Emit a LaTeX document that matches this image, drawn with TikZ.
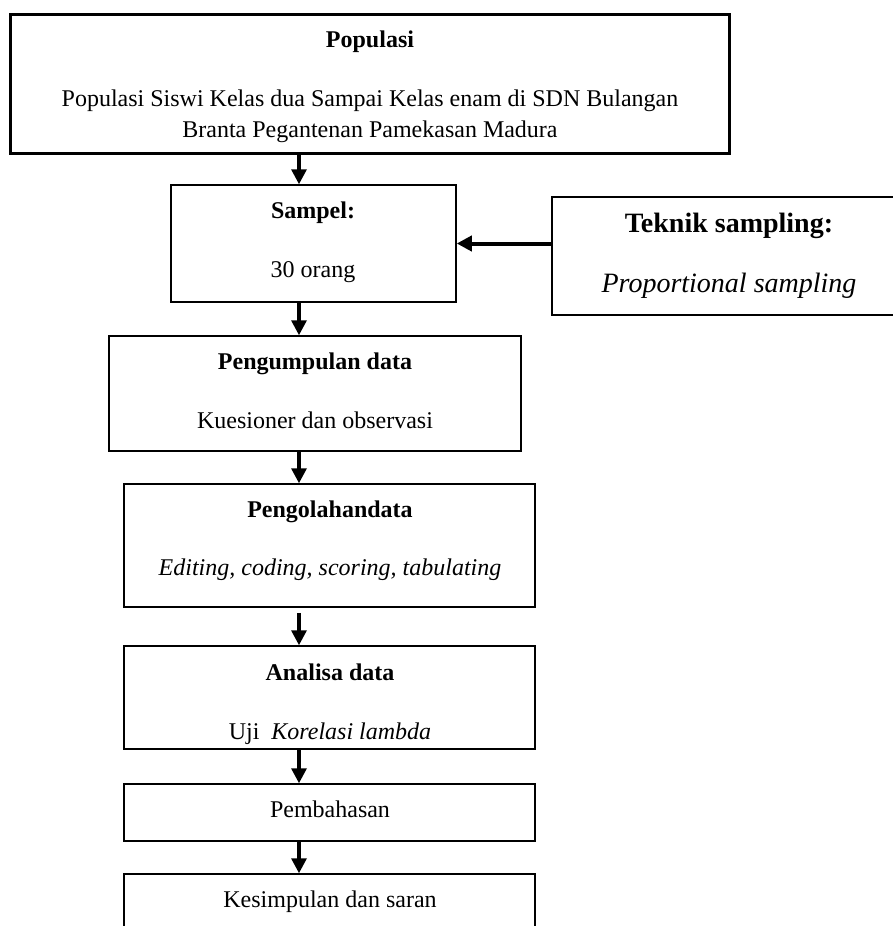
\documentclass[tikz,border=0pt]{standalone}
\usepackage{fontspec}
\setmainfont{Liberation Serif}
\usetikzlibrary{arrows.meta,fit}

\begin{document}
\begin{tikzpicture}[x=0.5pt,y=-0.5pt,line cap=butt,line join=miter,
  box/.style={draw,line width=0.75pt,inner sep=0pt},
  txt/.style={anchor=base,inner sep=0pt,font=\fontsize{12}{14}\selectfont},
  arr/.style={line width=1.65pt,-{Triangle[width=7.5pt,length=7.5pt]}}]
  \useasboundingbox (0,0) rectangle (893,926);
  \clip (0,0) rectangle (893,926);
  \node[box,line width=1.5pt,fit={(10,14) (729,153)}] (pop) {};
  \node[box,fit={(171,185) (456,302)}] (sam) {};
  \node[box,fit={(552,197) (906,315)}] (tek) {};
  \node[box,fit={(109,336) (521,451)}] (kum) {};
  \node[box,fit={(124,484) (535,607)}] (olah) {};
  \node[box,fit={(124,646) (535,749)}] (ana) {};
  \node[box,fit={(124,784) (535,841)}] (bahas) {};
  \node[box,fit={(124,874) (535,940)}] (simp) {};
  \node[txt,font=\fontsize{12}{14}\selectfont\bfseries] (popa) at (370,47) {Populasi};
  \node[txt] (popb) at (370,106) {Populasi Siswi Kelas dua Sampai Kelas enam di SDN Bulangan};
  \node[txt] (popc) at (370,137) {Branta Pegantenan Pamekasan Madura};
  \node[txt,font=\fontsize{12}{14}\selectfont\bfseries] (sama) at (313,218) {Sampel:};
  \node[txt] (samb) at (313,277) {30 orang};
  \node[txt,font=\fontsize{14}{16}\selectfont\bfseries] (teka) at (729,232) {Teknik sampling:};
  \node[txt,font=\fontsize{14}{16}\selectfont\itshape] (tekb) at (729,292) {Proportional sampling};
  \node[txt,font=\fontsize{12}{14}\selectfont\bfseries] (kuma) at (315,369) {Pengumpulan data};
  \node[txt] (kumb) at (315,428) {Kuesioner dan observasi};
  \node[txt,font=\fontsize{12}{14}\selectfont\bfseries] (olaha) at (330,517) {Pengolahandata};
  \node[txt,font=\fontsize{12}{14}\selectfont\itshape] (olahb) at (330,575) {Editing, coding, scoring, tabulating};
  \node[txt,font=\fontsize{12}{14}\selectfont\bfseries] (anaa) at (330,680) {Analisa data};
  \node[txt] (anab) at (330,739) {Uji\ \ \textit{Korelasi lambda}};
  \node[txt] (bahasa) at (330,817) {Pembahasan};
  \node[txt] (simpa) at (330,907) {Kesimpulan dan saran};
  \coordinate (ax) at (299,0);
  \draw[arr] (pop.south -| ax) -- (sam.north -| ax);
  \draw[arr,line width=2pt] (tek.west |- sam.east) -- (sam.east);
  \draw[arr] (sam.south -| ax) -- (kum.north -| ax);
  \draw[arr] (kum.south -| ax) -- (olah.north -| ax);
  \draw[arr] (olah.south -| ax) ++(0,5) -- (ana.north -| ax);
  \draw[arr] (ana.south -| ax) -- (bahas.north -| ax);
  \draw[arr] (bahas.south -| ax) -- (simp.north -| ax);
\end{tikzpicture}
\end{document}
